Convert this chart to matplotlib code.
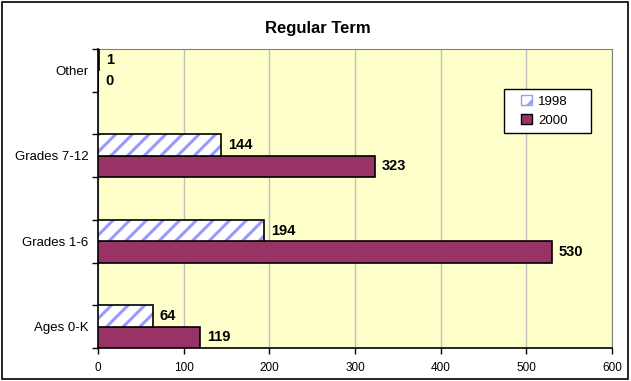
"""regular term enrolment bar chart"""
import numpy as np
import matplotlib
matplotlib.use("Agg")
import matplotlib.pyplot as plt
from matplotlib.patches import Patch, Rectangle

categories = ["Ages 0-K", "Grades 1-6", "Grades 7-12", "Other"]
vals_1998 = [64, 194, 144, 1]
vals_2000 = [119, 530, 323, 0]
xticks = [0, 100, 200, 300, 400, 500, 600]

plt.rcParams['font.family'] = ['Liberation Sans', 'DejaVu Sans']
plt.rcParams['hatch.linewidth'] = 2.2

fig = plt.figure(figsize=(6.31, 3.81), dpi=100)
# black frame round the whole chart
fig.patches.append(Rectangle((0.003, 0.004), 0.993, 0.992, transform=fig.transFigure,
                             fill=False, edgecolor="black", linewidth=1.2))

ax = fig.add_axes([98/631, 1-348/381, 514/631, 299/381])
ax.set_facecolor("#FFFFCC")

n = len(categories)
base = np.arange(n)*2.0
h = 0.5

# 2000 bars (lower half of each slot)
ax.barh(base + h/2, vals_2000, height=h, color="#993366", edgecolor="black", linewidth=1.2, zorder=3)
# 1998 bars: hatched fill then black outline on top
ax.barh(base + 1.5*h, vals_1998, height=h, color="white", edgecolor="#9999FF",
        hatch="//", linewidth=0, zorder=3)
ax.barh(base + 1.5*h, vals_1998, height=h, fill=False, edgecolor="black", linewidth=1.2, zorder=4)

#value labels
for i in range(n):
    ax.annotate(str(vals_1998[i]), (vals_1998[i], base[i] + 1.5*h), xytext=(5, 0),
                textcoords="offset points", va="center", ha="left", fontsize=10.5, fontweight="bold")
    ax.annotate(str(vals_2000[i]), (vals_2000[i], base[i] + h/2), xytext=(5, 0),
                textcoords="offset points", va="center", ha="left", fontsize=10.5, fontweight="bold")

ax.set_xlim(0, 600)
ax.set_ylim(0, 2*n - 1)
ax.set_xticks(xticks)
ax.set_xticklabels([str(x) for x in xticks], fontsize=8.5)
ax.set_yticks(np.arange(0, 2*n))
ax.set_yticklabels([])
ax.set_yticks(base + 0.5, minor=True)
ax.set_yticklabels(categories, minor=True, fontsize=9.5)
ax.tick_params(axis="y", which="minor", length=0, pad=7)
ax.tick_params(axis="y", which="major", length=4, width=1, direction="out")
ax.tick_params(axis="x", length=4, width=1, direction="out", pad=6)

ax.grid(axis="x", color="#C0C0C0", linewidth=1, zorder=0)
ax.set_axisbelow(True)
for s in ["top", "right"]:
    ax.spines[s].set_color("#808080")
for s in ["left", "bottom"]:
    ax.spines[s].set_color("black")
    ax.spines[s].set_linewidth(1.2)

fig.text(318/631, 1-28/381, "Regular Term", ha="center", va="center", fontsize=12, fontweight="bold")

# legend box drawn by hand so it can be wider than the entries
ax.add_patch(Rectangle(((504-98)/514, (348-133)/299), 87/514, 44/299, transform=ax.transAxes,
                       facecolor="white", edgecolor="black", linewidth=1, zorder=4.5))
handles = [Patch(facecolor="white", edgecolor="#9999FF", hatch="//", label="1998"),
           Patch(facecolor="#993366", edgecolor="black", label="2000")]
leg = ax.legend(handles=handles, loc="upper left", bbox_to_anchor=((517-98)/514, (348-91)/299),
                frameon=False, fontsize=9.5, handlelength=0.8, handleheight=0.8,
                handletextpad=0.5, borderpad=0.3, labelspacing=0.5, borderaxespad=0)
leg.set_zorder(6)

fig.savefig("out.png", dpi=100)
